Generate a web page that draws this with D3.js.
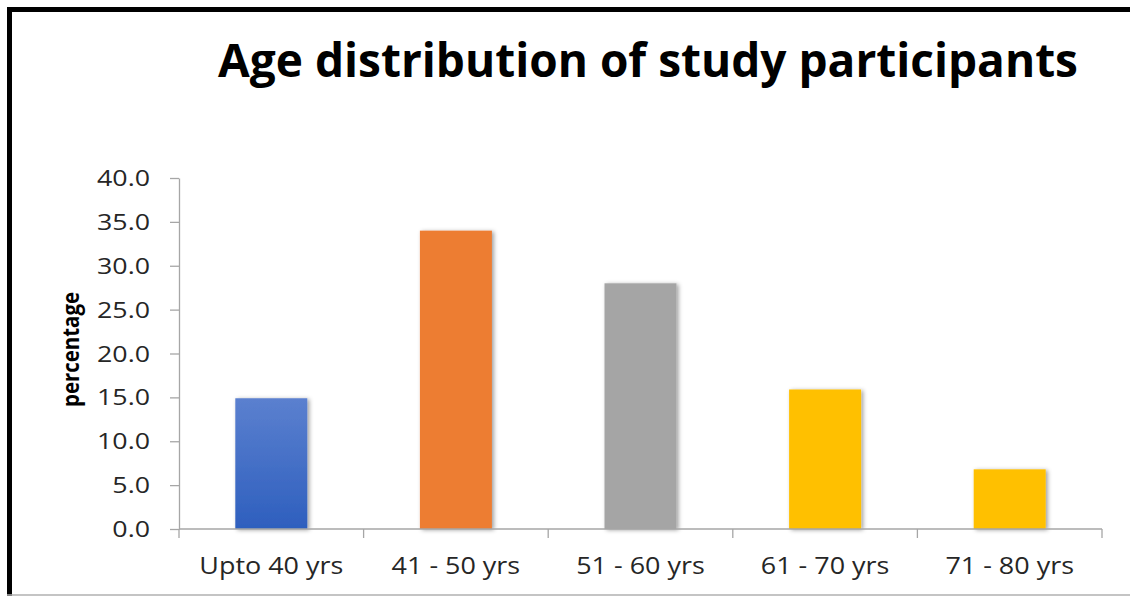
<!DOCTYPE html>
<html>
<head>
<meta charset="utf-8">
<script src="https://cdn.jsdelivr.net/npm/d3@7"></script>
<style>
  html, body { margin: 0; padding: 0; background: #fff; }
  svg { display: block; }
</style>
</head>
<body>
<svg id="chart" width="1130" height="596"></svg>
<script>
// Age groups and share of participants (%)
const categories = ["Upto 40 yrs", "41 - 50 yrs", "51 - 60 yrs", "61 - 70 yrs", "71 - 80 yrs"];
const percentages = [14.9, 34.0, 28.0, 15.9, 6.8];
const barColors = ["url(#blueFill)", "#ED7D31", "#A5A5A5", "#FFC000", "#FFC000"];
const yTicks = [0, 5, 10, 15, 20, 25, 30, 35, 40];
const titleText = "Age distribution of study participants";
const yLabel = "percentage";

const W = 1130, H = 596;
const plot = { left: 179, right: 1102, top: 178, bottom: 529 };
const FONT = "'Open Sans', 'DejaVu Sans', sans-serif";

const svg = d3.select("#chart");

// defs: gradient for the first bar and a soft drop shadow
const defs = svg.append("defs");
const grad = defs.append("linearGradient")
  .attr("id", "blueFill").attr("x1", 0).attr("y1", 0).attr("x2", 0).attr("y2", 1);
grad.append("stop").attr("offset", "0%").attr("stop-color", "#5b80cf");
grad.append("stop").attr("offset", "100%").attr("stop-color", "#2e5fbe");

const shadow = defs.append("filter").attr("id", "barShadow")
  .attr("x", "-20%").attr("y", "-10%").attr("width", "150%").attr("height", "130%");
shadow.append("feDropShadow")
  .attr("dx", 2).attr("dy", 1).attr("stdDeviation", 2.2)
  .attr("flood-color", "#000").attr("flood-opacity", 0.38);

// frame
svg.append("rect").attr("x", 0).attr("y", 0).attr("width", W).attr("height", H).attr("fill", "#fff");
svg.append("line").attr("x1", 7).attr("x2", W).attr("y1", 9.5).attr("y2", 9.5)
  .attr("stroke", "#000").attr("stroke-width", 5);
svg.append("line").attr("x1", 9.5).attr("x2", 9.5).attr("y1", 7).attr("y2", H)
  .attr("stroke", "#000").attr("stroke-width", 5);
svg.append("line").attr("x1", 7).attr("x2", W).attr("y1", 595).attr("y2", 595)
  .attr("stroke", "#b0b0b0").attr("stroke-width", 1.5);

// scales
const x = d3.scaleBand()
  .domain(categories)
  .range([plot.left, plot.right])
  .paddingInner(0.61)
  .paddingOuter(0.305);

const y = d3.scaleLinear()
  .domain([0, 40])
  .range([plot.bottom, plot.top]);

// stretch text horizontally by a factor using textLength
function stretch(sel, sx) {
  sel.each(function () {
    const w = this.getComputedTextLength();
    d3.select(this).attr("textLength", w * sx).attr("lengthAdjust", "spacingAndGlyphs");
  });
}

// y axis
const yAxisG = svg.append("g")
  .attr("transform", `translate(${plot.left},0)`)
  .call(d3.axisLeft(y).tickValues(yTicks).tickFormat(d3.format(".1f")).tickSize(9).tickSizeOuter(0).tickPadding(20));
yAxisG.select(".domain").attr("stroke", "#a6a6a6").attr("stroke-width", 1.3);
yAxisG.selectAll(".tick line").attr("stroke", "#a6a6a6").attr("stroke-width", 1.3);
const yTickText = yAxisG.selectAll(".tick text")
  .attr("font-family", FONT).attr("font-size", 21).attr("fill", "#262626")
  .attr("dy", "0.36em");
{
  const ref = yTickText.filter(d => d === 40).node();
  const sx = 53 / ref.getComputedTextLength();
  stretch(yTickText, sx);
}

// bars
svg.append("g").selectAll("rect")
  .data(categories)
  .join("rect")
  .attr("x", d => x(d))
  .attr("width", x.bandwidth())
  .attr("y", (d, i) => y(percentages[i]))
  .attr("height", (d, i) => y(0) - y(percentages[i]))
  .attr("fill", (d, i) => barColors[i])
  .attr("filter", "url(#barShadow)");

// x axis: baseline with ticks at category boundaries
const xAxisG = svg.append("g");
xAxisG.append("line")
  .attr("x1", plot.left).attr("x2", plot.right)
  .attr("y1", y(0)).attr("y2", y(0))
  .attr("stroke", "#a6a6a6").attr("stroke-width", 1.3);
const bounds = categories.map(c => x(c) - x.step() * x.paddingInner() / 2).concat([plot.right]);
xAxisG.selectAll("line.tick")
  .data(bounds)
  .join("line")
  .attr("class", "tick")
  .attr("x1", d => d).attr("x2", d => d)
  .attr("y1", y(0)).attr("y2", y(0) + 9)
  .attr("stroke", "#a6a6a6").attr("stroke-width", 1.3);
const xLabels = xAxisG.selectAll("text")
  .data(categories)
  .join("text")
  .attr("x", d => x(d) + x.bandwidth() / 2)
  .attr("y", 574)
  .attr("text-anchor", "middle")
  .attr("font-family", FONT).attr("font-size", 23.5).attr("fill", "#262626")
  .text(d => d);
{
  const ref = xLabels.filter(d => d === categories[0]).node();
  const sx = 144 / ref.getComputedTextLength();
  stretch(xLabels, sx);
}

// y axis title
svg.append("text")
  .attr("transform", `translate(79,349.5) rotate(-90)`)
  .attr("text-anchor", "middle")
  .attr("font-family", FONT).attr("font-weight", 700).attr("font-size", 22.5)
  .attr("fill", "#000")
  .text(yLabel)
  .call(s => s.attr("textLength", 115).attr("lengthAdjust", "spacingAndGlyphs"));

// chart title
svg.append("text")
  .attr("x", 218).attr("y", 77)
  .attr("font-family", FONT).attr("font-weight", 700).attr("font-size", 46)
  .attr("fill", "#000")
  .text(titleText)
  .attr("textLength", 860).attr("lengthAdjust", "spacingAndGlyphs");
</script>
</body>
</html>
